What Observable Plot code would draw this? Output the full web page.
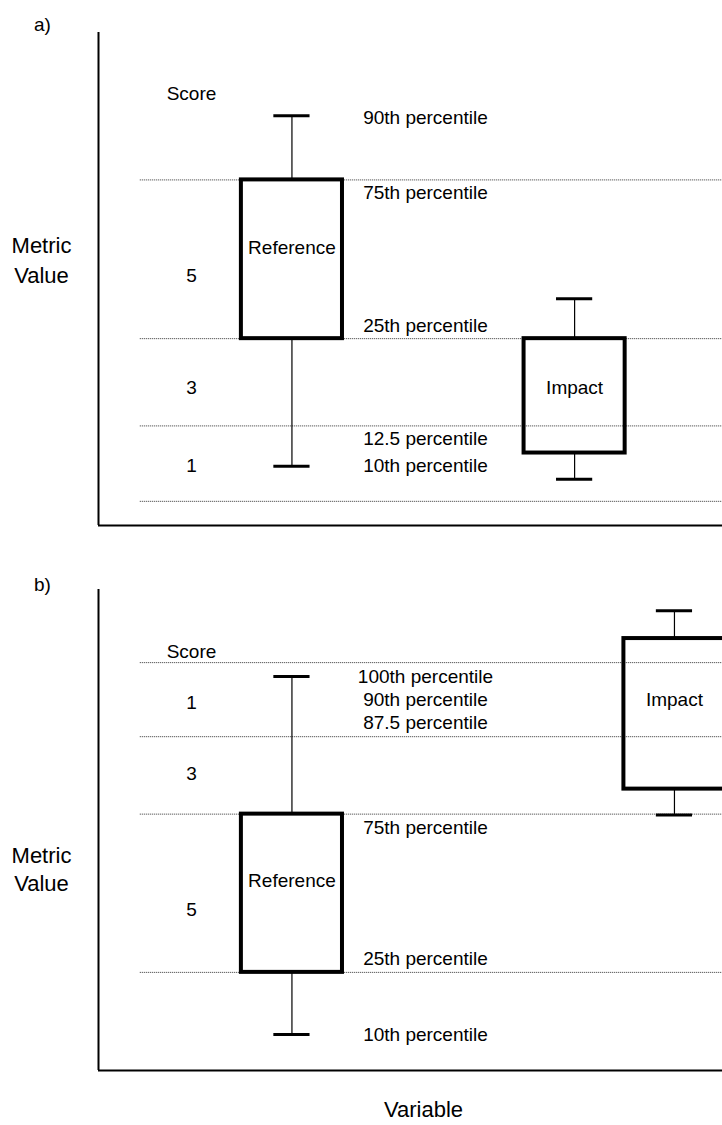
<!DOCTYPE html>
<html><head><meta charset="utf-8">
<script src="https://cdn.jsdelivr.net/npm/d3@7"></script>
<script src="https://cdn.jsdelivr.net/npm/@observablehq/plot@0.6"></script>
<style>
body{margin:0;overflow:hidden;background:#fff;}
#wrap{width:722px;}
#wrap svg{display:block;overflow:hidden;}
</style></head><body><div id="wrap"></div>
<script>
// ---------- data (schematic metric units, 0-100 on each axis) ----------
const panelLetters = ["a)", "b)"];
const yAxisLabel = "Metric\nValue";
const xAxisLabel = "Variable";
const scoreHeader = "Score";

// Panel a
const boxNamesA = ["Reference", "Impact"];
const boxXA = [31, 76.3];
const p10A = [12.0, 9.4];
const q1A = [37.9, 14.7];
const q3A = [70.1, 37.9];
const p90A = [83.1, 46.0];
const boxLabelYA = [56.4, 27.9];
const dottedA = [70.1, 37.9, 20.2, 4.9];
const scoreTextA = ["5", "3", "1"];
const scoreYA = [50.7, 27.9, 12.0];
const scoreHeaderYA = 87.6;
const pctTextA = ["90th percentile", "75th percentile", "25th percentile", "12.5 percentile", "10th percentile"];
const pctYA = [82.7, 67.4, 40.5, 17.5, 12.0];

// Panel b
const boxNamesB = ["Reference", "Impact"];
const boxXB = [31, 92.3];
const p10B = [7.5, 53.1];
const q1B = [20.4, 58.5];
const q3B = [53.3, 89.8];
const p90B = [81.9, 95.6];
const boxLabelYB = [39.4, 77.1];
const dottedB = [84.8, 69.4, 53.3, 20.4];
const scoreTextB = ["1", "3", "5"];
const scoreYB = [76.5, 61.7, 33.3];
const scoreHeaderYB = 87.1;
const pctTextB = ["100th percentile", "90th percentile", "87.5 percentile", "75th percentile", "25th percentile", "10th percentile"];
const pctYB = [81.9, 77.1, 72.3, 50.4, 23.3, 7.5];

// ---------- layout / style ----------
const FONT = "'Liberation Sans', Arial, sans-serif";
const BOX_HALF = 8.1, CAP_HALF = 2.9, DOT_START = 6.7, SCORE_X = 14.9, PCT_X = 52.4;

function panel(cfg) {
  const boxes = cfg.names.map((n, i) => ({
    name: n, x: cfg.bx[i], p10: cfg.p10[i], q1: cfg.q1[i], q3: cfg.q3[i], p90: cfg.p90[i], ly: cfg.ly[i]
  }));
  const scores = cfg.scoreText.map((t, i) => ({t, y: cfg.scoreY[i]}));
  scores.push({t: scoreHeader, y: cfg.scoreHeaderY});
  const pcts = cfg.pctText.map((t, i) => ({t, y: cfg.pctY[i]}));
  return Plot.plot({
    width: 722,
    height: cfg.height,
    marginLeft: 98,
    marginRight: 0,
    marginTop: cfg.mt,
    marginBottom: cfg.mb,
    x: {domain: [0, 100], axis: null},
    y: {domain: [0, 100], axis: null},
    style: {fontFamily: FONT, fontSize: "19px", background: "white", color: "#000"},
    marks: [
      Plot.ruleY(cfg.dotted, {x1: DOT_START, x2: 100, stroke: "#333", strokeWidth: 1, strokeDasharray: "1,1"}),
      Plot.ruleX([0], {stroke: "#000", strokeWidth: 2}),
      Plot.ruleY([0], {stroke: "#000", strokeWidth: 2}),
      Plot.ruleX(boxes, {x: "x", y1: "q3", y2: "p90", stroke: "#000", strokeWidth: 1.2}),
      Plot.ruleX(boxes, {x: "x", y1: "p10", y2: "q1", stroke: "#000", strokeWidth: 1.2}),
      Plot.ruleY(boxes, {y: "p90", x1: d => d.x - CAP_HALF, x2: d => d.x + CAP_HALF, stroke: "#000", strokeWidth: 3}),
      Plot.ruleY(boxes, {y: "p10", x1: d => d.x - CAP_HALF, x2: d => d.x + CAP_HALF, stroke: "#000", strokeWidth: 3}),
      Plot.rect(boxes, {x1: d => d.x - BOX_HALF, x2: d => d.x + BOX_HALF, y1: "q1", y2: "q3", fill: "none", stroke: "#000", strokeWidth: 4}),
      Plot.text(boxes, {x: "x", y: "ly", text: "name", fill: "#000", fontSize: 19}),
      Plot.text(scores, {x: SCORE_X, y: "y", text: "t", fill: "#000", fontSize: 19}),
      Plot.text(pcts, {x: PCT_X, y: "y", text: "t", fill: "#000", fontSize: 19}),
      Plot.text([cfg.letter], {frameAnchor: "top-left", textAnchor: "middle", dx: -56, dy: cfg.letterDy, text: d => d, fill: "#000", fontSize: 19}),
      Plot.text([yAxisLabel], {frameAnchor: "left", textAnchor: "middle", dx: -57, dy: cfg.yLabelDy, text: d => d, fill: "#000", fontSize: 22, lineHeight: cfg.yLabelLH}),
      ...(cfg.showX ? [Plot.text([xAxisLabel], {frameAnchor: "bottom", textAnchor: "middle", dx: 13, dy: 46, text: d => d, fill: "#000", fontSize: 22})] : [])
    ]
  });
}

const wrap = document.getElementById("wrap");
wrap.append(panel({
  height: 560, mt: 32, mb: 35, letter: panelLetters[0], letterDy: -15, yLabelDy: -21, yLabelLH: 1.36, showX: false,
  names: boxNamesA, bx: boxXA, p10: p10A, q1: q1A, q3: q3A, p90: p90A, ly: boxLabelYA,
  dotted: dottedA, scoreText: scoreTextA, scoreY: scoreYA, scoreHeaderY: scoreHeaderYA,
  pctText: pctTextA, pctY: pctYA
}));
wrap.append(panel({
  height: 565, mt: 29, mb: 55, letter: panelLetters[1], letterDy: -12, yLabelDy: 38, yLabelLH: 1.3, showX: true,
  names: boxNamesB, bx: boxXB, p10: p10B, q1: q1B, q3: q3B, p90: p90B, ly: boxLabelYB,
  dotted: dottedB, scoreText: scoreTextB, scoreY: scoreYB, scoreHeaderY: scoreHeaderYB,
  pctText: pctTextB, pctY: pctYB
}));
</script></body></html>
